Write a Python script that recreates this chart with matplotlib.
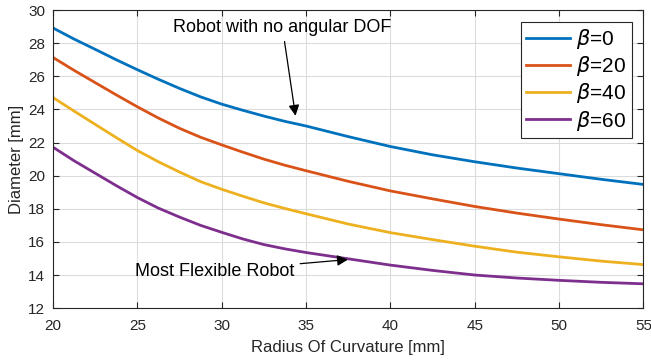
import matplotlib
matplotlib.use('Agg')
import matplotlib.pyplot as plt

plt.rcParams['font.family'] = ['Liberation Sans', 'DejaVu Sans']
plt.rcParams['mathtext.fontset'] = 'dejavusans'

# radius of curvature [mm]
radius = [20, 21.25, 22.5, 23.75, 25, 26.25, 27.5, 28.75, 30, 31.25, 32.5, 33.75,
          35, 37.5, 40, 42.5, 45, 47.5, 50, 52.5, 55]

# diameter [mm] for each beta
d_beta0 = [28.92, 28.25, 27.63, 27.0, 26.4, 25.82, 25.27, 24.76, 24.32, 23.95, 23.6, 23.28,
           23.0, 22.36, 21.76, 21.26, 20.84, 20.46, 20.12, 19.78, 19.47]
d_beta20 = [27.14, 26.36, 25.62, 24.88, 24.16, 23.48, 22.86, 22.32, 21.86, 21.42, 21.0, 20.63,
            20.3, 19.66, 19.08, 18.6, 18.14, 17.74, 17.38, 17.04, 16.73]
d_beta40 = [24.72, 23.9, 23.1, 22.3, 21.52, 20.84, 20.22, 19.64, 19.18, 18.76, 18.36, 18.02,
            17.7, 17.08, 16.56, 16.14, 15.74, 15.38, 15.1, 14.84, 14.63]
d_beta60 = [21.72, 20.9, 20.15, 19.4, 18.68, 18.04, 17.5, 17.0, 16.58, 16.18, 15.84, 15.58,
            15.36, 14.98, 14.6, 14.28, 14.0, 13.82, 13.68, 13.56, 13.47]

labels = [r'$\beta$=0', r'$\beta$=20', r'$\beta$=40', r'$\beta$=60']
colors = ['#0072BD', '#D95319', '#EDB120', '#7E2F8E']

fig = plt.figure(figsize=(6.51, 3.6), dpi=100)
ax = fig.add_axes([0.0814, 0.144, 0.907, 0.828])

for y, lab, c in zip([d_beta0, d_beta20, d_beta40, d_beta60], labels, colors):
    ax.plot(radius, y, color=c, lw=2.0, label=lab)

ax.set_xlim(20, 55)
ax.set_ylim(12, 30)
ax.set_xticks(range(20, 56, 5))
ax.set_yticks(range(12, 31, 2))
ax.grid(True, color='#dcdcdc', lw=0.8)
ax.set_axisbelow(True)
ax.tick_params(direction='in', top=True, right=True, labelsize=11,
               colors='#262626', length=4)
ax.tick_params(axis='x', pad=8)
ax.tick_params(axis='y', pad=5.5)
for s in ax.spines.values():
    s.set_color('#262626')
    s.set_linewidth(0.8)

ax.set_xlabel('Radius Of Curvature [mm]', fontsize=12, color='#262626', labelpad=5)
ax.set_ylabel('Diameter [mm]', fontsize=12, color='#262626', labelpad=3)

leg = ax.legend(loc='upper right', fontsize=15, handlelength=2.1,
                handletextpad=0.3, labelspacing=0.15, borderpad=0.25,
                borderaxespad=0, fancybox=False, framealpha=1,
                bbox_to_anchor=(0.98, 0.96))
leg.get_frame().set_edgecolor('#262626')
leg.get_frame().set_linewidth(0.8)

arrow = dict(arrowstyle='-|>', color='black', lw=0.9, mutation_scale=16)
ax.annotate('Robot with no angular DOF', xy=(34.4, 23.45), xytext=(33.6, 28.95),
            fontsize=13, ha='center', va='center', arrowprops=arrow)
ax.annotate('Most Flexible Robot', xy=(37.65, 14.95), xytext=(29.6, 14.24),
            fontsize=13, ha='center', va='center', arrowprops=arrow)

fig.savefig('out.png', dpi=100)
